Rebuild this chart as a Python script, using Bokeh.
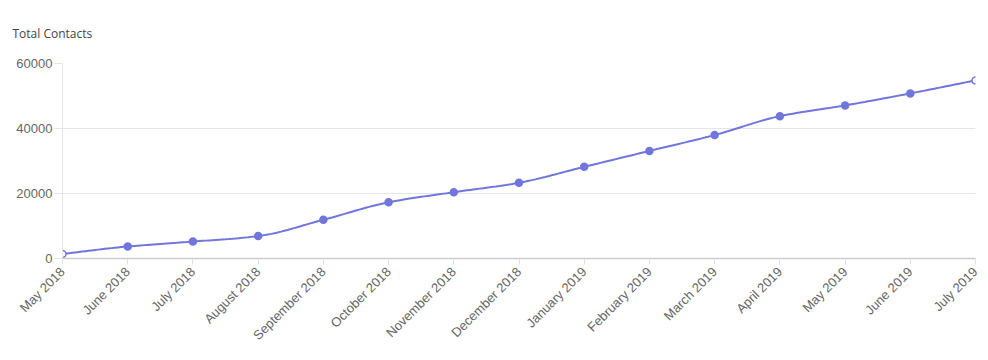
import numpy as np
from bokeh.plotting import figure
from bokeh.models import FixedTicker, Range1d
from bokeh.embed import file_html
from bokeh.resources import INLINE

months = ["May 2018", "June 2018", "July 2018", "August 2018", "September 2018",
          "October 2018", "November 2018", "December 2018", "January 2019",
          "February 2019", "March 2019", "April 2019", "May 2019", "June 2019", "July 2019"]
contacts = [1400, 3700, 5200, 6900, 11900, 17300, 20400, 23300, 28200,
            33100, 38000, 43800, 47100, 50800, 54800]
y_ticks = [0, 20000, 40000, 60000]

LINE = "#7076dc"

x = np.arange(len(months), dtype=float)
y = np.array(contacts, dtype=float)

# monotone cubic (Fritsch-Carlson) for smooth rendering of the line
def monotone(xs, ys, n=20):
    h = np.diff(xs)
    d = np.diff(ys) / h
    m = np.zeros_like(ys)
    m[0], m[-1] = d[0], d[-1]
    for i in range(1, len(ys) - 1):
        if d[i - 1] * d[i] <= 0:
            m[i] = 0
        else:
            w1 = 2 * h[i] + h[i - 1]
            w2 = h[i] + 2 * h[i - 1]
            m[i] = (w1 + w2) / (w1 / d[i - 1] + w2 / d[i])
    ox, oy = [], []
    for i in range(len(xs) - 1):
        t = np.linspace(0, 1, n, endpoint=False)
        h00 = 2 * t**3 - 3 * t**2 + 1
        h10 = t**3 - 2 * t**2 + t
        h01 = -2 * t**3 + 3 * t**2
        h11 = t**3 - t**2
        ox.extend(xs[i] + t * h[i])
        oy.extend(h00 * ys[i] + h10 * h[i] * m[i] + h01 * ys[i + 1] + h11 * h[i] * m[i + 1])
    ox.append(xs[-1]); oy.append(ys[-1])
    return ox, oy

sx, sy = monotone(x, y)

p = figure(width=980, height=351, output_backend="svg", toolbar_location=None,
           x_range=Range1d(0, len(months) - 1), y_range=Range1d(0, 60000),
           min_border_left=62, min_border_right=5, min_border_top=62, min_border_bottom=10)

p.title.text = "Total Contacts"
p.title.text_font = "Open Sans"
p.title.text_font_size = "12px"
p.title.text_font_style = "normal"
p.title.text_color = "#444444"
p.title.align = "left"
p.title.offset = -50
p.title.standoff = 44

p.outline_line_color = None
p.background_fill_color = "white"
p.border_fill_color = "white"

p.line(sx, sy, line_color=LINE, line_width=2)
fills = ["white" if i in (0, len(months) - 1) else LINE for i in range(len(months))]
p.scatter(x, y, size=7, fill_color=fills, line_color=LINE, line_width=1.5)

# x axis
p.xaxis.ticker = FixedTicker(ticks=list(range(len(months))))
p.xaxis.major_label_overrides = {i: m for i, m in enumerate(months)}
p.xaxis.major_label_orientation = np.pi / 4
p.xaxis.major_label_text_font = "Liberation Sans"
p.xaxis.major_label_text_font_size = "13px"
p.xaxis.major_label_text_color = "#666666"
p.xaxis.axis_line_color = "#cccccc"
p.xaxis.axis_line_width = 1.5
p.xaxis.major_tick_line_color = "#e0e0e0"
p.xaxis.major_tick_out = 6
p.xaxis.major_tick_in = 0
p.xaxis.minor_tick_line_color = None
p.xaxis.major_label_standoff = 5
p.xgrid.grid_line_color = None

# y axis
p.yaxis.ticker = FixedTicker(ticks=y_ticks)
p.yaxis.major_label_text_font = "Liberation Sans"
p.yaxis.major_label_text_font_size = "13px"
p.yaxis.major_label_text_color = "#666666"
p.yaxis.axis_line_color = "#e6e6e6"
p.yaxis.major_tick_line_color = "#e6e6e6"
p.yaxis.major_tick_out = 8
p.yaxis.major_tick_in = 0
p.yaxis.minor_tick_line_color = None
p.yaxis.major_label_standoff = 2
p.ygrid.grid_line_color = "#e6e6e6"
p.ygrid.ticker = FixedTicker(ticks=y_ticks)

open("out.html", "w").write(file_html(p, INLINE))
